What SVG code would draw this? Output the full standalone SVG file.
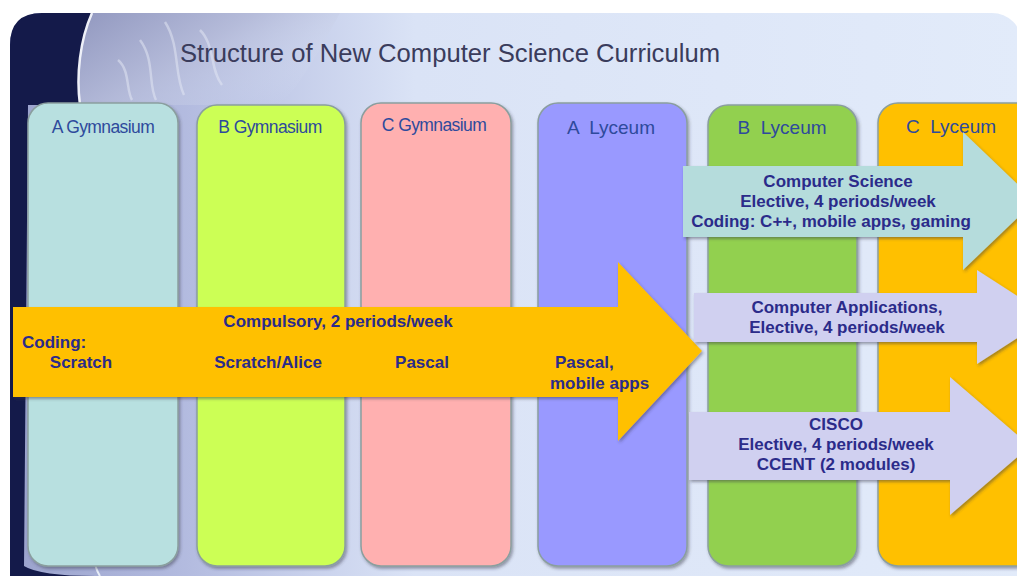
<svg xmlns="http://www.w3.org/2000/svg" width="1017" height="576" viewBox="0 0 1017 576">
<defs>
<linearGradient id="bg" x1="0" y1="0" x2="1" y2="0">
<stop offset="0" stop-color="#9aa2cc"/>
<stop offset="0.18" stop-color="#b4bce0"/>
<stop offset="0.4" stop-color="#dae3f6"/>
<stop offset="1" stop-color="#e2ebfa"/>
</linearGradient>
<linearGradient id="swirl" x1="0" y1="0" x2="1" y2="0.6">
<stop offset="0" stop-color="#8f95bc"/>
<stop offset="0.5" stop-color="#b4bad8"/>
<stop offset="1" stop-color="#dbe3f5" stop-opacity="0"/>
</linearGradient>
<filter id="sh" x="-5%" y="-5%" width="115%" height="115%">
<feDropShadow dx="1.5" dy="2" stdDeviation="1.5" flood-color="#334" flood-opacity="0.45"/>
</filter>
<style>
.col{stroke:#8a9e9e;stroke-width:1.5;filter:url(#sh)}
.hd{font-family:"Liberation Sans",Arial,sans-serif;font-size:17.5px;fill:#2e4a9c;text-anchor:middle;letter-spacing:-0.6px}
.ly{font-size:19px;letter-spacing:0}
.tx{font-family:"Liberation Sans",Arial,sans-serif;font-size:17px;font-weight:bold;fill:#2b2b8a}
.mid{text-anchor:middle}
.arr{filter:url(#sh)}
</style>
</defs>
<rect width="1017" height="576" fill="#ffffff"/>
<g id="background">
<rect x="10" y="13" width="1012" height="580" rx="30" fill="url(#bg)"/>
<path d="M92,13 L340,13 C320,50 300,85 280,105 L80,105 C78,70 82,35 92,13 Z" fill="url(#swirl)" opacity="0.85"/>
<path d="M140,40 C155,60 148,85 156,100 M165,22 C180,45 174,75 184,95 M118,60 C130,70 126,90 132,100 M200,30 C215,45 210,70 222,85" stroke="#e6eaf6" stroke-width="2.5" fill="none" opacity="0.5"/>
<path d="M10,45 Q10,13 42,13 L92,13 C80,40 76,75 80,105 L28,105 L24,566 Q40,576 95,576 L10,576 Z" fill="#141a4a"/>
<path d="M92,13 C80,40 76,75 80,105" stroke="#eef0f8" stroke-width="2.5" fill="none"/>
<path d="M100,576 C90,560 96,548 110,540" stroke="#e8eef8" stroke-width="2" fill="none"/>
</g>
<text id="title" x="180" y="62" font-family="Liberation Sans, Arial, sans-serif" font-size="25" textLength="540" lengthAdjust="spacingAndGlyphs" fill="#3a3c5c">Structure of New Computer Science Curriculum</text>
<g id="col-a-gym"><rect class="col" x="28" y="103" width="150" height="463" rx="20" fill="#b8e0e0"/><text class="hd" x="103" y="133">A Gymnasium</text></g>
<g id="col-b-gym"><rect class="col" x="197" y="105" width="148" height="461" rx="20" fill="#ccff55"/><text class="hd" x="270" y="133">B Gymnasium</text></g>
<g id="col-c-gym"><rect class="col" x="361" y="103" width="150" height="463" rx="20" fill="#ffb0b0"/><text class="hd" x="434" y="131">C Gymnasium</text></g>
<g id="col-a-lyc"><rect class="col" x="538" y="103" width="149" height="463" rx="20" fill="#9999ff"/><text class="hd ly" x="611" y="134" xml:space="preserve">A  Lyceum</text></g>
<g id="col-b-lyc"><rect class="col" x="708" y="105" width="149" height="461" rx="20" fill="#92d050"/><text class="hd ly" x="782" y="134" xml:space="preserve">B  Lyceum</text></g>
<g id="col-c-lyc"><rect class="col" x="878" y="103" width="160" height="463" rx="20" fill="#ffc000"/><text class="hd ly" x="951" y="133" xml:space="preserve">C  Lyceum</text></g>
<g id="connectors">
<g id="arrow-compulsory">
<polygon class="arr" points="13,307 618,307 618,262 702,351 618,441 618,397 13,397" fill="#ffc000"/>
<text class="tx mid" x="338" y="327">Compulsory, 2 periods/week</text>
<text class="tx" x="22" y="348">Coding:</text>
<text class="tx mid" x="81" y="368">Scratch</text>
<text class="tx mid" x="268" y="368">Scratch/Alice</text>
<text class="tx mid" x="422" y="368">Pascal</text>
<text class="tx" x="555" y="368">Pascal,</text>
<text class="tx" x="550" y="389">mobile apps</text>
</g>
<g id="arrow-cs">
<polygon class="arr" points="683,166 963,166 963,132 1035,201 963,270 963,237 683,237" fill="#b5dcdc"/>
<text class="tx mid" x="838" y="187">Computer Science</text>
<text class="tx mid" x="838" y="207">Elective, 4 periods/week</text>
<text class="tx mid" x="831" y="227">Coding: C++, mobile apps, gaming</text>
</g>
<g id="arrow-apps">
<polygon class="arr" points="694,293 977,293 977,270 1050,317 977,364 977,342 694,342" fill="#d0d0f0"/>
<text class="tx mid" x="847" y="313">Computer Applications,</text>
<text class="tx mid" x="847" y="333">Elective, 4 periods/week</text>
</g>
<g id="arrow-cisco">
<polygon class="arr" points="689,412 950,412 950,377 1030,446 950,515 950,480 689,480" fill="#d0d0f0"/>
<text class="tx mid" x="836" y="430">CISCO</text>
<text class="tx mid" x="836" y="450">Elective, 4 periods/week</text>
<text class="tx mid" x="836" y="470">CCENT (2 modules)</text>
</g>
</g>
</svg>
